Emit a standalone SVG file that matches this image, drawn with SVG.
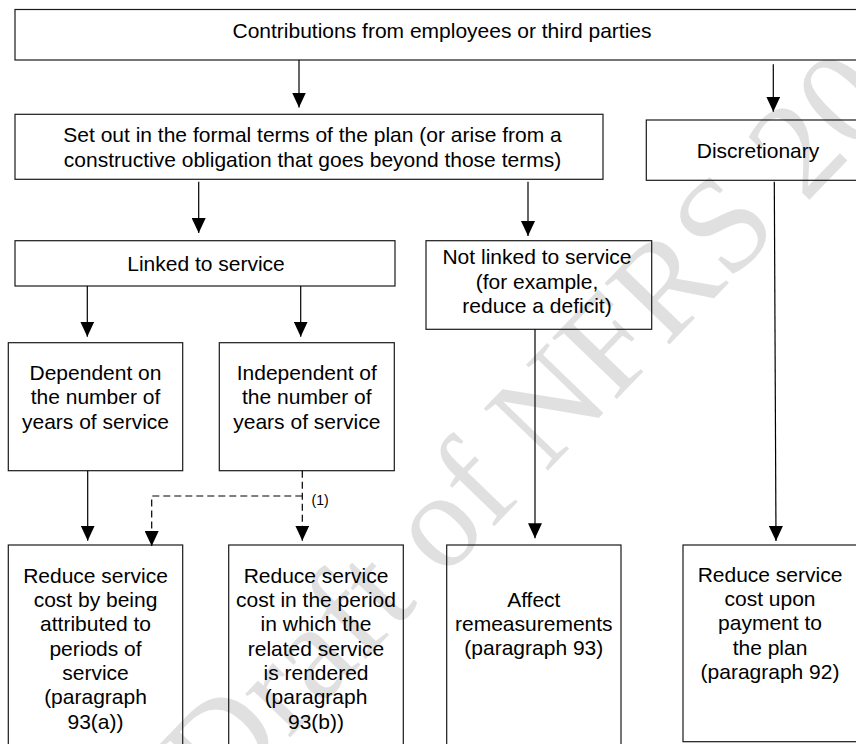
<svg xmlns="http://www.w3.org/2000/svg" width="856" height="744" viewBox="0 0 856 744">
<style>
.box{fill:none;stroke:#1a1a1a;stroke-width:1.2}
.t{font-family:"Liberation Sans",Arial,sans-serif;font-size:21px;fill:#000;text-anchor:middle}
.c{fill:none;stroke:#000;stroke-width:1.2}
.d{fill:none;stroke:#000;stroke-width:1.2;stroke-dasharray:7,4}
.wm{font-family:"Liberation Serif","Times New Roman",serif;font-size:136px;fill:#e0e0e0}
.lbl{font-family:"Liberation Sans",Arial,sans-serif;font-size:14px;fill:#000}
</style>
<defs>
<marker id="ah" viewBox="0 0 15 14" refX="15" refY="7" markerWidth="15" markerHeight="14" markerUnits="userSpaceOnUse" orient="auto">
<path d="M0,0 L15,7 L0,14 z" fill="#000"/>
</marker>
</defs>
<rect width="856" height="744" fill="#fff"/>
<text class="wm" transform="translate(220,810) rotate(-46)">Draft of NFRS 20</text>

<g id="n-contributions">
<rect class="box" x="15" y="9.5" width="860" height="50.5"/>
<text class="t" x="442" y="37.5">Contributions from employees or third parties</text>
</g>
<g id="n-setout">
<rect class="box" x="15" y="114.3" width="588" height="65"/>
<text class="t" x="312.5" y="141.7">Set out in the formal terms of the plan (or arise from a</text>
<text class="t" x="312.5" y="166.7">constructive obligation that goes beyond those terms)</text>
</g>
<g id="n-discretionary">
<rect class="box" x="646.3" y="120" width="230" height="60.3"/>
<text class="t" x="758" y="157.7">Discretionary</text>
</g>
<g id="n-linked">
<rect class="box" x="15" y="240.7" width="380" height="45.3"/>
<text class="t" x="206" y="270.7">Linked to service</text>
</g>
<g id="n-notlinked">
<rect class="box" x="426" y="240.7" width="225.7" height="88.6"/>
<text class="t" x="537" y="264">Not linked to service</text>
<text class="t" x="537" y="288.5">(for example,</text>
<text class="t" x="537" y="313">reduce a deficit)</text>
</g>
<g id="n-dependent">
<rect class="box" x="8.3" y="342.7" width="174.4" height="128"/>
<text class="t" x="95.5" y="380">Dependent on</text>
<text class="t" x="95.5" y="404.3">the number of</text>
<text class="t" x="95.5" y="428.6">years of service</text>
</g>
<g id="n-independent">
<rect class="box" x="219.3" y="342.7" width="175" height="128"/>
<text class="t" x="306.8" y="380">Independent of</text>
<text class="t" x="306.8" y="404.3">the number of</text>
<text class="t" x="306.8" y="428.6">years of service</text>
</g>
<g id="n-93a">
<rect class="box" x="8.3" y="545" width="174.4" height="220"/>
<text class="t" x="95.5" y="582.7">Reduce service</text>
<text class="t" x="95.5" y="607">cost by being</text>
<text class="t" x="95.5" y="631.3">attributed to</text>
<text class="t" x="95.5" y="655.6">periods of</text>
<text class="t" x="95.5" y="679.9">service</text>
<text class="t" x="95.5" y="704.2">(paragraph</text>
<text class="t" x="95.5" y="728.5">93(a))</text>
</g>
<g id="n-93b">
<rect class="box" x="228.7" y="545" width="174.6" height="220"/>
<text class="t" x="316" y="582.7">Reduce service</text>
<text class="t" x="316" y="607">cost in the period</text>
<text class="t" x="316" y="631.3">in which the</text>
<text class="t" x="316" y="655.6">related service</text>
<text class="t" x="316" y="679.9">is rendered</text>
<text class="t" x="316" y="704.2">(paragraph</text>
<text class="t" x="316" y="728.5">93(b))</text>
</g>
<g id="n-affect">
<rect class="box" x="446.7" y="545" width="174.3" height="220"/>
<text class="t" x="533.8" y="606.7">Affect</text>
<text class="t" x="533.8" y="631">remeasurements</text>
<text class="t" x="533.8" y="655.3">(paragraph 93)</text>
</g>
<g id="n-92">
<rect class="box" x="683" y="545" width="190" height="196.7"/>
<text class="t" x="770" y="581.7">Reduce service</text>
<text class="t" x="770" y="606">cost upon</text>
<text class="t" x="770" y="630.3">payment to</text>
<text class="t" x="770" y="654.6">the plan</text>
<text class="t" x="770" y="678.9">(paragraph 92)</text>
</g>

<g id="connectors">
<line class="c" x1="299" y1="60" x2="299" y2="107.5" marker-end="url(#ah)"/>
<line class="c" x1="773.3" y1="64.3" x2="773.3" y2="111.7" marker-end="url(#ah)"/>
<line class="c" x1="198.7" y1="181.7" x2="198.7" y2="233" marker-end="url(#ah)"/>
<line class="c" x1="528" y1="181.7" x2="528" y2="236" marker-end="url(#ah)"/>
<line class="c" x1="774.3" y1="181.7" x2="776" y2="541" marker-end="url(#ah)"/>
<line class="c" x1="87.3" y1="286" x2="87.3" y2="336.7" marker-end="url(#ah)"/>
<line class="c" x1="300.7" y1="286" x2="300.7" y2="336.7" marker-end="url(#ah)"/>
<line class="c" x1="535" y1="329.3" x2="535" y2="538.3" marker-end="url(#ah)"/>
<line class="c" x1="87.7" y1="470.7" x2="87.7" y2="540.7" marker-end="url(#ah)"/>
<line class="d" x1="302.3" y1="470.7" x2="302.3" y2="540.7" marker-end="url(#ah)"/>
<polyline class="d" points="302.3,496 151.7,496 151.7,546" marker-end="url(#ah)"/>
<text class="lbl" x="311.5" y="505">(1)</text>
</g>
</svg>
